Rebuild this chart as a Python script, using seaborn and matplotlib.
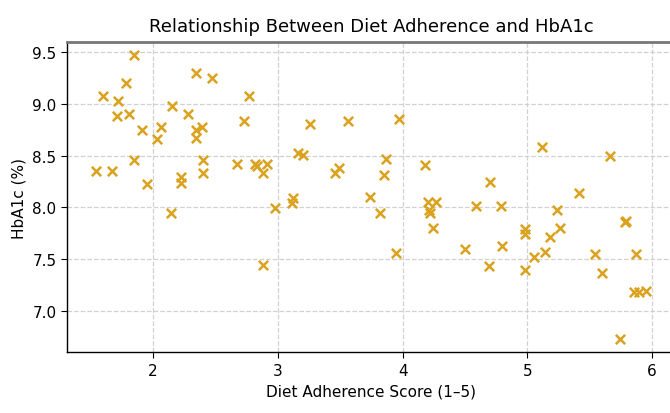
import matplotlib
matplotlib.use("Agg")
import matplotlib.pyplot as plt
import seaborn as sns
import pandas as pd

# Diet adherence score and HbA1c for each participant
adherence = [
    1.54, 1.67, 1.60, 1.72, 1.71, 1.78, 1.81, 1.85, 1.85, 1.91,
    1.95, 2.03, 2.06, 2.14, 2.15, 2.22, 2.22, 2.28, 2.34, 2.34,
    2.34, 2.39, 2.40, 2.40, 2.47, 2.67, 2.73, 2.77, 2.82, 2.83,
    2.88, 2.91, 2.88, 2.98, 3.12, 3.11, 3.16, 3.20, 3.26, 3.46,
    3.49, 3.56, 3.74, 3.82, 3.85, 3.87, 3.95, 3.97, 4.18, 4.20,
    4.21, 4.22, 4.27, 4.24, 4.50, 4.59, 4.70, 4.69, 4.79, 4.80,
    4.98, 4.98, 4.98, 5.05, 5.12, 5.14, 5.18, 5.24, 5.26, 5.41,
    5.54, 5.60, 5.66, 5.74, 5.78, 5.79, 5.87, 5.85, 5.89, 5.95,
]
hba1c = [
    8.35, 8.35, 9.08, 9.03, 8.88, 9.20, 8.90, 9.47, 8.46, 8.75,
    8.23, 8.66, 8.78, 7.95, 8.98, 8.29, 8.24, 8.90, 9.30, 8.75,
    8.67, 8.78, 8.46, 8.33, 9.25, 8.42, 8.84, 9.08, 8.42, 8.40,
    8.33, 8.42, 7.44, 7.99, 8.09, 8.04, 8.53, 8.51, 8.81, 8.33,
    8.38, 8.84, 8.10, 7.95, 8.31, 8.47, 7.56, 8.86, 8.41, 8.05,
    7.98, 7.95, 8.05, 7.80, 7.60, 8.01, 8.25, 7.43, 8.01, 7.63,
    7.79, 7.74, 7.39, 7.52, 8.58, 7.57, 7.71, 7.98, 7.80, 8.14,
    7.55, 7.37, 8.50, 6.73, 7.86, 7.87, 7.55, 7.18, 7.18, 7.19,
]

df = pd.DataFrame({"adherence": adherence, "hba1c": hba1c})

sns.set_style("ticks")
plt.rcParams["font.family"] = ["DejaVu Sans"]
plt.rcParams["text.color"] = "black"
plt.rcParams["axes.labelcolor"] = "black"
plt.rcParams["xtick.color"] = "black"
plt.rcParams["ytick.color"] = "black"

fig = plt.figure(figsize=(6.7, 4.14), dpi=100)
ax = fig.add_axes([0.100, 0.147, 0.907, 0.749])

sns.scatterplot(data=df, x="adherence", y="hba1c", marker="x",
                color="#DAA21E", s=45, linewidth=1.8, ax=ax, zorder=3)

ax.set_xlim(1.31, 6.18)
ax.set_ylim(6.60, 9.60)
ax.set_xticks([2, 3, 4, 5, 6])
ax.set_yticks([7.0, 7.5, 8.0, 8.5, 9.0, 9.5])
ax.set_yticklabels(["7.0", "7.5", "8.0", "8.5", "9.0", "9.5"])
ax.grid(True, linestyle="--", color="#cccccc", linewidth=0.9, alpha=0.9)
ax.set_axisbelow(True)

for side in ["left", "bottom", "right", "top"]:
    ax.spines[side].set_color("black")
    ax.spines[side].set_linewidth(1.0)
ax.spines["top"].set_color("#777777")
ax.spines["top"].set_linewidth(2.0)

ax.tick_params(axis="both", labelsize=11, length=4, color="black",
               labelcolor="black")
ax.set_xlabel("Diet Adherence Score (1–5)", fontsize=11, color="black")
ax.set_ylabel("HbA1c (%)", fontsize=11, color="black")
ax.set_title("Relationship Between Diet Adherence and HbA1c", fontsize=13,
             pad=8, color="black")

fig.savefig("out.png", dpi=100)
